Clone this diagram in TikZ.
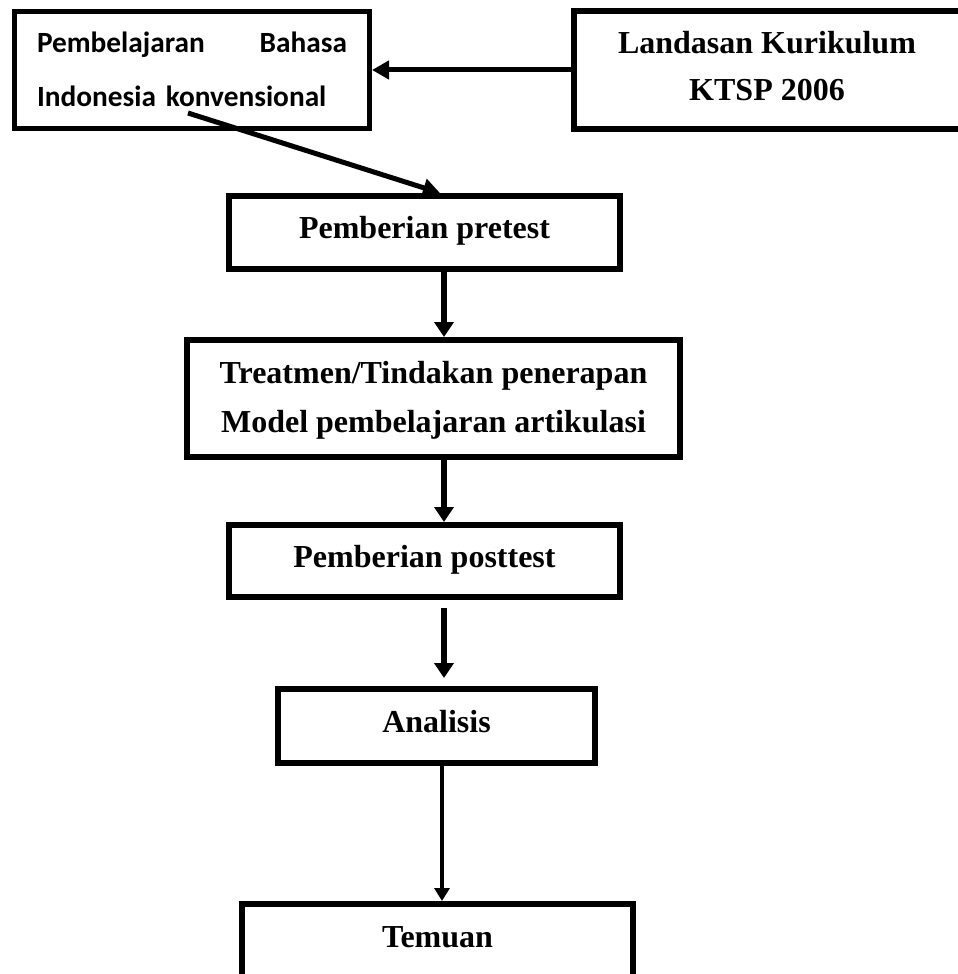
\documentclass[tikz,border=0pt]{standalone}
\usepackage{fontspec}
\setmainfont{Liberation Serif}
\newfontfamily\carlito{Carlito}
\usetikzlibrary{arrows.meta,calc}
\begin{document}
\begin{tikzpicture}[x=0.75pt,y=-0.75pt,
  box/.style={draw, rectangle, line width=4.5pt, inner sep=0pt, align=center,
    text height=16.5pt, font=\fontsize{24}{36}\selectfont\bfseries},
  thk/.style={line width=4.5pt, -{Triangle[length=11.25pt,width=14.25pt]}},
  med/.style={line width=3.75pt, -{Triangle[length=12.75pt,width=13.5pt]}},
  thn/.style={line width=3pt, -{Triangle[length=9.75pt,width=11.25pt]}}
]
\useasboundingbox (0,0) rectangle (957,974);

\node[box, line width=3.75pt, minimum width=355*0.75pt, minimum height=117*0.75pt,
  text width=232.5pt, align=left, text height=15pt, text depth=40.5pt,
  font=\carlito\fontsize{22}{40.5}\selectfont\bfseries] (konv) at (192,70)
  {Pembelajaran\hfill Bahasa\\Indonesia konvensional};

\node[box, minimum width=387*0.75pt, minimum height=117*0.75pt,
  text height=51.75pt, text depth=6.75pt,
  font=\fontsize{24}{35.25}\selectfont\bfseries] (land) at (767,70)
  {Landasan Kurikulum\\KTSP 2006};

\node[box, minimum width=391*0.75pt, minimum height=73*0.75pt, text depth=8.25pt]
  (pre) at (424.5,232.5) {Pemberian pretest};

\node[box, minimum width=493*0.75pt, minimum height=117*0.75pt,
  text height=53.25pt, text depth=3pt,
  font=\fontsize{24}{36.75}\selectfont\bfseries] (treat) at (433.5,398.5)
  {Treatmen/Tindakan penerapan\\Model pembelajaran artikulasi};

\node[box, minimum width=391*0.75pt, minimum height=72*0.75pt, text depth=7.5pt]
  (post) at (424.5,561) {Pemberian posttest};

\node[box, minimum width=317*0.75pt, minimum height=74*0.75pt, text depth=7.5pt]
  (anal) at (436.5,726) {Analisis};

\node[box, minimum width=391*0.75pt, minimum height=76*0.75pt, text depth=9pt]
  (temu) at (437.5,942) {Temuan};

\coordinate (ax) at (444,0);
\coordinate (axt) at (442,0);
\coordinate (dstart) at (188,113);

\draw[med] (land) -- (konv);
\draw[med] (dstart) -- ($(pre.north)+(15.5,0)$);
\draw[thk] (pre.south -| ax) -- (treat.north -| ax);
\draw[thk] (treat.south -| ax) -- (post.north -| ax);
\draw[thk, shorten <=6pt, shorten >=6pt] (post.south -| ax) -- (anal.north -| ax);
\draw[thn] (anal.south -| axt) -- (temu.north -| axt);
\end{tikzpicture}
\end{document}
